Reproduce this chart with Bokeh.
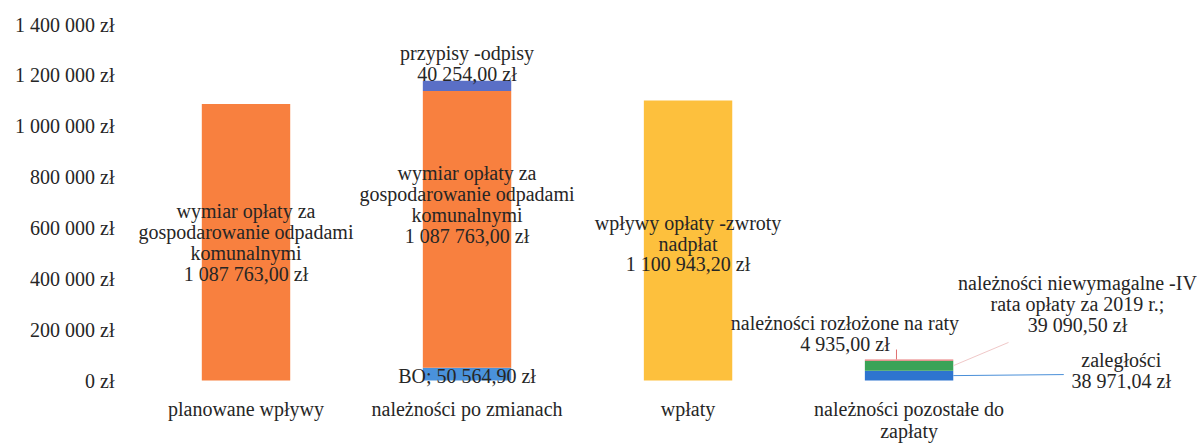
from bokeh.plotting import figure
from bokeh.models import ColumnDataSource, Range1d, FixedTicker
from bokeh.embed import file_html
from bokeh.resources import INLINE
from bokeh.core.properties import value

# ---- data ----
categories = ["planowane wpływy", "należności po zmianach", "wpłaty",
              "należności pozostałe do\nzapłaty"]
zaleglosci = [0, 0, 0, 38971.04]
niewymagalne = [0, 0, 0, 39090.50]
rozlozone = [0, 0, 0, 4935.00]
bo = [0, 50564.90, 0, 0]
wymiar = [1087763.00, 1087763.00, 0, 0]
przypisy = [0, 40254.00, 0, 0]
wplywy = [0, 0, 1100943.20, 0]
y_ticks = [0, 200000, 400000, 600000, 800000, 1000000, 1200000, 1400000]

series = ["zaleglosci", "niewymagalne", "rozlozone", "bo", "wymiar", "przypisy", "wplywy"]
colors = ["#2E74CF", "#3AA357", "#E87878", "#4A92DB", "#F8803F", "#5A6FC6", "#FDC03D"]

FONT = "Liberation Serif"
TXT = "#262626"
FS = "20px"
LH = 0.95


def zl(v, dec=2):
    s = f"{v:,.{dec}f}".replace(",", " ").replace(".", ",")
    return s + " zł"


xs = [i + 0.5 for i in range(len(categories))]
src = ColumnDataSource(dict(x=xs, zaleglosci=zaleglosci, niewymagalne=niewymagalne,
                            rozlozone=rozlozone, bo=bo, wymiar=wymiar,
                            przypisy=przypisy, wplywy=wplywy))

p = figure(width=1197, height=444, x_range=Range1d(0, 4.805), y_range=Range1d(-35100, 1400000),
           output_backend="svg", toolbar_location=None,
           min_border_left=135, min_border_right=0, min_border_top=24, min_border_bottom=52)
p.outline_line_color = None
p.grid.grid_line_color = None
p.background_fill_color = "white"

p.vbar_stack(series, x="x", width=0.4, color=colors, source=src, line_width=0)

# ---- axes ----
p.yaxis.ticker = FixedTicker(ticks=y_ticks)
p.yaxis.major_label_overrides = {t: zl(t, 0) for t in y_ticks}
p.xaxis.ticker = FixedTicker(ticks=xs)
p.xaxis.major_label_overrides = {x: c for x, c in zip(xs, categories)}
for ax in (p.xaxis, p.yaxis):
    ax.axis_line_color = None
    ax.major_tick_line_color = None
    ax.minor_tick_line_color = None
    ax.major_label_text_font = FONT
    ax.major_label_text_font_size = FS
    ax.major_label_text_color = TXT
    ax.major_label_text_line_height = 1.0
p.yaxis.major_label_standoff = 15
p.xaxis.major_label_standoff = 2

# ---- in-bar labels (segment centre + pixel nudge) ----
i1, i2, i3, i4 = 0, 1, 2, 3
in_x = [xs[i1], xs[i2], xs[i3], xs[i2]]
in_y = [wymiar[i1] / 2,
        bo[i2] + wymiar[i2] / 2,
        wplywy[i3] / 2,
        bo[i2] / 2]
in_t = ["wymiar opłaty za\ngospodarowanie odpadami\nkomunalnymi\n" + zl(wymiar[i1]),
        "wymiar opłaty za\ngospodarowanie odpadami\nkomunalnymi\n" + zl(wymiar[i2]),
        "wpływy opłaty -zwroty\nnadpłat\n" + zl(wplywy[i3]),
        "BO; " + zl(bo[i2])]
in_dy = [0, -25, 3, 2]
p.text(x=in_x, y=in_y, text=in_t, y_offset=in_dy, text_font=value(FONT),
       text_font_size=FS, text_color=TXT, text_align="center",
       text_baseline="middle", text_line_height=LH)

# ---- label above bar 2 ----
top2 = bo[i2] + wymiar[i2] + przypisy[i2]
p.text(x=[xs[i2]], y=[top2], text=["przypisy -odpisy\n" + zl(przypisy[i2])], y_offset=[4],
       text_font=value(FONT), text_font_size=FS, text_color=TXT,
       text_align="center", text_baseline="bottom", text_line_height=LH)

# ---- callout labels for bar 4 (annotation anchor positions) ----
lab_x = [3.21, 4.262, 4.46]
lab_y = [186800, 300900, 41300]
lab_t = ["należności rozłożone na raty\n" + zl(rozlozone[i4]),
         "należności niewymagalne -IV\nrata opłaty za 2019 r.;\n" + zl(niewymagalne[i4]),
         "zaległości\n" + zl(zaleglosci[i4])]
p.text(x=lab_x, y=lab_y, text=lab_t, text_font=value(FONT), text_font_size=FS,
       text_color=TXT, text_align="center", text_baseline="middle", text_line_height=LH)

# leader lines
bar_right = xs[i4] + 0.2
tot4 = zaleglosci[i4] + niewymagalne[i4] + rozlozone[i4]
p.segment(x0=[3.443], y0=[tot4], x1=[3.443], y1=[122000], line_color="#E07070", line_width=1)
p.segment(x0=[bar_right], y0=[zaleglosci[i4] + niewymagalne[i4] / 2], x1=[3.95], y1=[150000],
          line_color="#F0C8C8", line_width=1)
p.segment(x0=[bar_right], y0=[zaleglosci[i4] / 2], x1=[4.20], y1=[23600],
          line_color="#4A8FD8", line_width=1)

open("out.html", "w").write(file_html(p, INLINE))
